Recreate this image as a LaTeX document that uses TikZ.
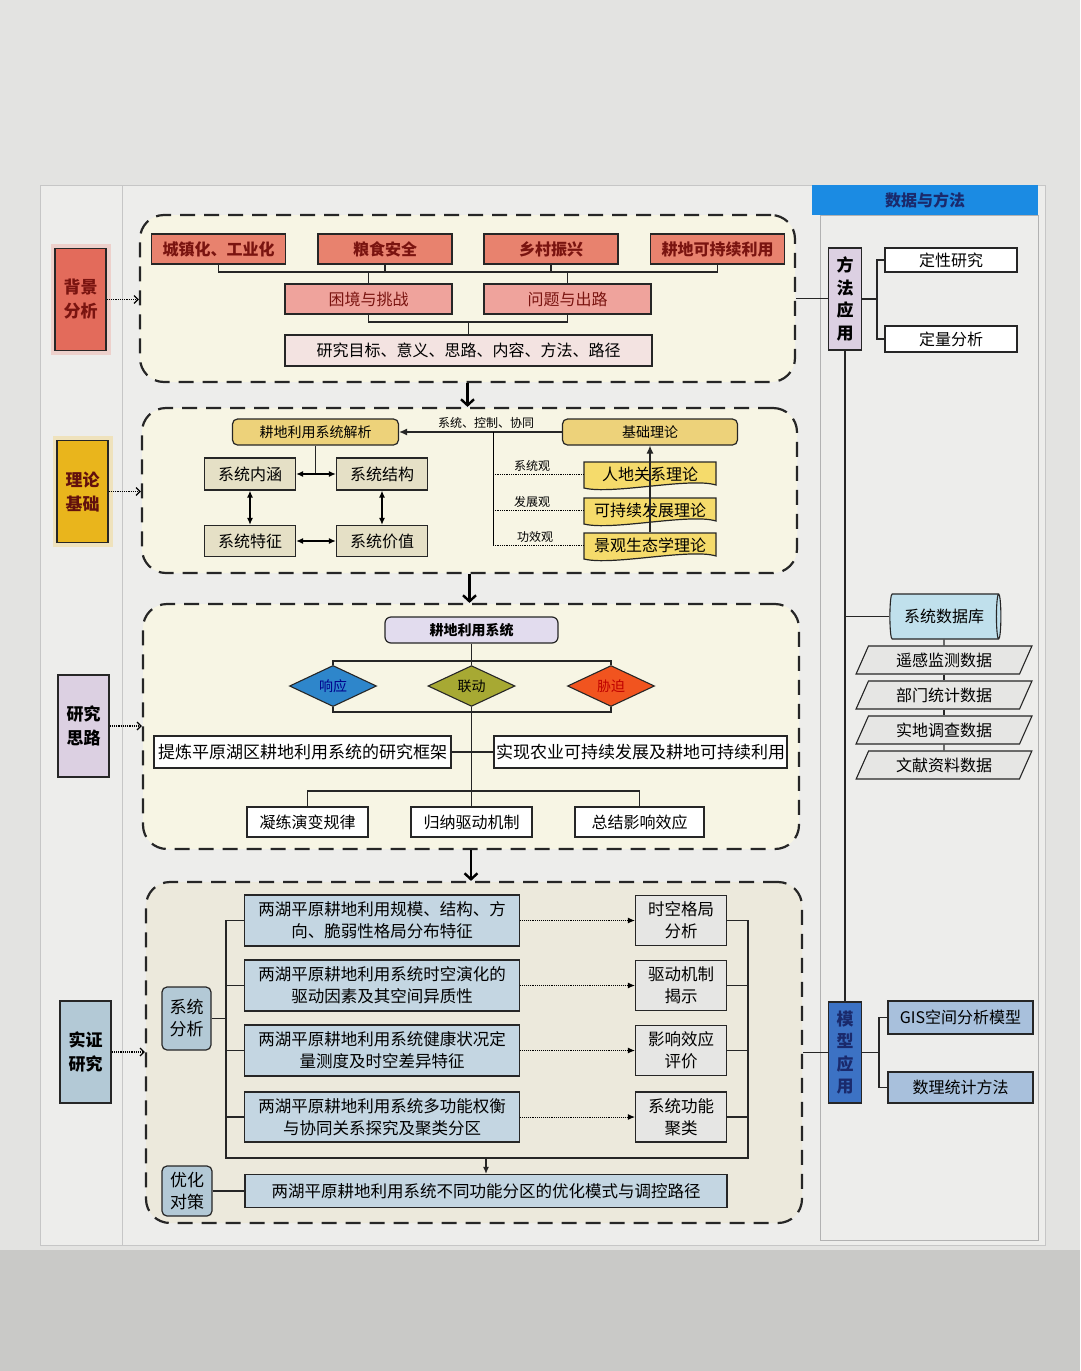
\documentclass[tikz,border=0pt]{standalone}
\usepackage{fontspec}
\setmainfont{Noto Sans CJK SC}
\usetikzlibrary{arrows.meta,shapes.geometric,positioning,calc}

\definecolor{bgA}{HTML}{E3E3E1}
\definecolor{bgB}{HTML}{C9C9C7}
\definecolor{paper}{HTML}{EDEDEB}
\definecolor{cream}{HTML}{F7F5E4}
\definecolor{creamB}{HTML}{ECE9DC}
\definecolor{redA}{HTML}{E8826E}
\definecolor{redB}{HTML}{EFA39C}
\definecolor{redC}{HTML}{F3E3E1}
\definecolor{redD}{HTML}{7A1410}
\definecolor{bjC}{HTML}{E36B5B}
\definecolor{goldA}{HTML}{E9B51C}
\definecolor{yelA}{HTML}{EDD27A}
\definecolor{yelB}{HTML}{F5DB6B}
\definecolor{khaki}{HTML}{E5E0C6}
\definecolor{lila}{HTML}{DCD0E2}
\definecolor{lilaB}{HTML}{E2DCEE}
\definecolor{dBlue}{HTML}{2E86CB}
\definecolor{dOlive}{HTML}{A7A933}
\definecolor{dRed}{HTML}{F1541F}
\definecolor{steel}{HTML}{C4D6E2}
\definecolor{steelB}{HTML}{B3C9D6}
\definecolor{lgray}{HTML}{E6E6E4}
\definecolor{hdBlue}{HTML}{1B8BE3}
\definecolor{navy}{HTML}{1A2A6C}
\definecolor{mBlue}{HTML}{3C72C4}
\definecolor{gisB}{HTML}{A8C0DC}
\definecolor{cyl}{HTML}{C0E0EC}

\begin{document}
\begin{tikzpicture}[x=1pt,y=-1pt,
  box/.style={draw=black!85, line width=1.2pt, inner sep=0pt, align=center, font=\fontsize{16}{21}\selectfont},
  lab/.style={box, minimum width=51pt, minimum height=102pt, font=\bfseries\fontsize{17}{24}\selectfont},
  frame/.style={draw=black!85, line width=2.2pt, dash pattern=on 15pt off 9pt, rounded corners=24pt, fill=cream, inner sep=0pt},
  link/.style={draw=black!85, line width=1.2pt},
  dotarr/.style={densely dotted, line width=1.2pt, -{Straight Barb[length=4pt,width=8pt]}},
  dotthin/.style={densely dotted, line width=0.9pt, -{Latex[length=7pt,width=6pt]}},
  bigarr/.style={line width=2.4pt, -{Straight Barb[length=6pt,width=13pt]}},
  dbl/.style={line width=1.3pt, {Latex[length=7pt,width=6pt]}-{Latex[length=7pt,width=6pt]}},
  small/.style={inner sep=0pt, font=\fontsize{12}{14}\selectfont},
  dia/.style={diamond, draw=black!85, line width=1.1pt, minimum width=87pt, minimum height=31pt, inner sep=0pt, font=\fontsize{14}{16}\selectfont},
  para/.style={trapezium, trapezium left angle=62, trapezium right angle=118, trapezium stretches=true, draw=black!85, line width=1.1pt, fill=lgray, minimum width=176pt, minimum height=28pt, inner sep=0pt, font=\fontsize{16}{20}\selectfont}]

\useasboundingbox (0,0) rectangle (1080,1371);
% page and paper
\fill[bgA] (0,0) rectangle (1080,1250);
\fill[bgB] (0,1250) rectangle (1080,1371);
\fill[paper] (40,185) rectangle (1045,1245);
\draw[gray!45, line width=0.8pt] (40,185) rectangle (1045,1245);
\draw[gray!45, line width=0.8pt] (122,185) -- (122,1245);
\draw[gray!60, line width=0.8pt] (820,215) rectangle (1038,1240);
\node[box, draw=none, fill=hdBlue, minimum width=226pt, minimum height=30pt, text=navy, font=\bfseries\fontsize{16}{20}\selectfont] (hd) at (925,200) {数据与方法};

% dashed frames
\node[frame, minimum width=655pt, minimum height=167pt] (sec1) at (467.5,298.5) {};
\node[frame, minimum width=655pt, minimum height=165pt] (sec2) at (469.5,490.5) {};
\node[frame, minimum width=656pt, minimum height=245pt] (sec3) at (471,726.5) {};
\node[frame, fill=creamB, minimum width=656pt, minimum height=341pt] (sec4) at (474,1052.5) {};
\draw[bigarr] (sec1.south) -- (sec1.south |- sec2.north);
\draw[bigarr] (sec2.south) -- (sec2.south |- sec3.north);
\draw[bigarr] (sec3.south) -- (sec3.south |- sec4.north);

% left labels
\node[lab, fill=bjC, text=redD, preaction={draw=bjC!60, line width=9pt, opacity=.4}] (bj) at (80.5,299.5) {背景\\分析};
\node[lab, fill=goldA, text=redD!80!black, preaction={draw=goldA!60, line width=9pt, opacity=.4}] (ll) at (82.5,491.5) {理论\\基础};
\node[lab, fill=lila] (yj) at (83.5,726) {研究\\思路};
\node[lab, fill=steelB] (sz) at (85.5,1052) {实证\\研究};
\foreach \a/\b in {bj/sec1, ll/sec2, yj/sec3, sz/sec4}
  \draw[dotarr] (\a.east) -- (\a.east -| \b.west);

% background analysis
\foreach \n/\x/\t in {c1/218.5/城镇化、工业化, c2/385/粮食安全, c3/551/乡村振兴, c4/717.5/耕地可持续利用}
  \node[box, fill=redA, text=redD, font=\bfseries\fontsize{16}{20}\selectfont, minimum width=134pt, minimum height=30pt] (\n) at (\x,249) {\t};
\node[box, fill=redB, text=redD, minimum width=167pt, minimum height=30pt] (k1) at (368.5,299) {困境与挑战};
\node[box, fill=redB, text=redD, minimum width=167pt, minimum height=30pt] (k2) at (567.5,299) {问题与出路};
\node[box, fill=redC, minimum width=367pt, minimum height=31pt] (mb) at (468.5,350.5) {研究目标、意义、思路、内容、方法、路径};
\coordinate (row1) at (0,272);
\coordinate (row2) at (0,322);
\draw[link] (c1.south) |- (row1 -| c4) -- (c4.south);
\foreach \n in {c2,c3} \draw[link] (\n.south) -- (\n |- row1);
\foreach \n in {k1,k2} \draw[link] (\n.north) -- (\n |- row1);
\draw[link] (k1.south) |- (row2 -| k2) -- (k2.south);
\draw[link] (mb.north) -- (mb |- row2);

% theory basis
\node[box, rounded corners=5pt, fill=yelA, minimum width=166pt, minimum height=26pt, font=\fontsize{14}{18}\selectfont] (jx) at (315.5,432) {耕地利用系统解析};
\node[box, rounded corners=5pt, fill=yelA, minimum width=175pt, minimum height=26pt, font=\fontsize{14}{18}\selectfont] (jc) at (650,432) {基础理论};
\node[box, fill=khaki, minimum width=91pt, minimum height=32pt] (nh) at (250,474) {系统内涵};
\node[box, fill=khaki, minimum width=91pt, minimum height=32pt] (jg) at (382,474) {系统结构};
\node[box, fill=khaki, minimum width=91pt, minimum height=31pt] (tz) at (250,541) {系统特征};
\node[box, fill=khaki, minimum width=91pt, minimum height=31pt] (jz) at (382,541) {系统价值};
\draw[link] (jx.south) -- (jx.south |- nh.east);
\draw[dbl] (nh.east) -- (jg.west);
\draw[dbl] (nh.south) -- (tz.north);
\draw[dbl] (jg.south) -- (jz.north);
\draw[dbl] (tz.east) -- (jz.west);
\draw[link, -{Latex[length=8pt,width=7pt]}] (jc.west) -- (jx.east);
\node[small] (lk) at (486,423) {系统、控制、协同};
\foreach \i/\y/\t in {1/475/人地关系理论, 2/511/可持续发展理论, 3/546/景观生态学理论} {
  \draw[link, fill=yelB] (584,\y-13) -- (716,\y-13) -- (716,\y+10) .. controls (690,\y+2) and (612,\y+20) .. (584,\y+13) -- cycle;
  \node[inner sep=0pt, minimum width=132pt, minimum height=26pt, font=\fontsize{16}{20}\selectfont] (t\i) at (650,\y-1) {\t};
}
\coordinate (v0) at (493,432);
\draw[line width=0.8pt] (v0) -- (v0 |- t3.west);
\foreach \i in {1,2,3}
  \draw[densely dotted, line width=0.8pt] (v0 |- t\i.west) -- (t\i.west);
\node[small] (g1) at (532,466) {系统观};
\node[small] (g2) at (532,502) {发展观};
\node[small] (g3) at (535,537) {功效观};
\draw[link, -{Latex[length=8pt,width=7pt]}] (t3.north) -- (jc.south);

% research idea
\node[box, rounded corners=6pt, fill=lilaB, minimum width=173pt, minimum height=26pt, font=\bfseries\fontsize{14}{18}\selectfont] (xt) at (471.5,630) {耕地利用系统};
\node[dia, fill=dBlue, text=blue!55!black] (d1) at (333,686) {响应};
\node[dia, fill=dOlive] (d2) at (471.5,686) {联动};
\node[dia, fill=dRed, text=red!75!black] (d3) at (611,686) {胁迫};
\coordinate (h1) at (0,661);
\coordinate (h2) at (0,712);
\coordinate (h3) at (0,791);
\draw[link] (xt.south) -- (xt |- h1);
\draw[link] (d2.north) -- (d2 |- h1);
\draw[link] (d1.north) |- (h1 -| d3) -- (d3.north);
\draw[link] (d1.south) |- (h2 -| d3) -- (d3.south);
\draw[link] (d2.south) -- (d2 |- h3);
\node[box, fill=white, minimum width=297pt, minimum height=32pt, font=\fontsize{17}{20}\selectfont] (f1) at (302.5,752) {提炼平原湖区耕地利用系统的研究框架};
\node[box, fill=white, minimum width=293pt, minimum height=32pt, font=\fontsize{17}{20}\selectfont] (f2) at (640.5,752) {实现农业可持续发展及耕地可持续利用};
\draw[link] (f1.east) -- (f2.west);
\node[box, fill=white, minimum width=121pt, minimum height=30pt] (e1) at (307.5,822) {凝练演变规律};
\node[box, fill=white, minimum width=121pt, minimum height=30pt] (e2) at (471.5,822) {归纳驱动机制};
\node[box, fill=white, minimum width=129pt, minimum height=30pt] (e3) at (639.5,822) {总结影响效应};
\draw[link] (e1.north) |- (h3 -| e3) -- (e3.north);
\draw[link] (e2.north) -- (e2 |- h3);

% empirical study
\node[box, rounded corners=5pt, fill=steelB, minimum width=49pt, minimum height=63pt, font=\fontsize{17}{22}\selectfont] (fx) at (186.5,1018.5) {系统\\分析};
\node[box, fill=steel, minimum width=275pt, minimum height=51pt, font=\fontsize{16.5}{22}\selectfont] (b1) at (382,920.5) {两湖平原耕地利用规模、结构、方\\向、脆弱性格局分布特征};
\node[box, fill=steel, minimum width=275pt, minimum height=51pt, font=\fontsize{16.5}{22}\selectfont] (b2) at (382,985.5) {两湖平原耕地利用系统时空演化的\\驱动因素及其空间异质性};
\node[box, fill=steel, minimum width=275pt, minimum height=51pt, font=\fontsize{16.5}{22}\selectfont] (b3) at (382,1050.5) {两湖平原耕地利用系统健康状况定\\量测度及时空差异特征};
\node[box, fill=steel, minimum width=275pt, minimum height=50pt, font=\fontsize{16.5}{22}\selectfont] (b4) at (382,1117) {两湖平原耕地利用系统多功能权衡\\与协同关系探究及聚类分区};
\node[box, fill=lgray, minimum width=91pt, minimum height=50pt, font=\fontsize{16.5}{22}\selectfont] (q1) at (681,920.5) {时空格局\\分析};
\node[box, fill=lgray, minimum width=91pt, minimum height=50pt, font=\fontsize{16.5}{22}\selectfont] (q2) at (681,985.5) {驱动机制\\揭示};
\node[box, fill=lgray, minimum width=91pt, minimum height=50pt, font=\fontsize{16.5}{22}\selectfont] (q3) at (681,1050.5) {影响效应\\评价};
\node[box, fill=lgray, minimum width=91pt, minimum height=50pt, font=\fontsize{16.5}{22}\selectfont] (q4) at (681,1117) {系统功能\\聚类};
\coordinate (bl) at (226,1158);
\coordinate (br) at (748,1158);
\draw[link] (b1.west) -| (bl) -- (br) |- (q1.east);
\foreach \i in {2,3,4} {
  \draw[link] (b\i.west) -- (b\i.west -| bl);
  \draw[link] (q\i.east) -- (q\i.east -| br);
}
\foreach \i in {1,...,4}
  \draw[dotthin] (b\i.east) -- (q\i.west);
\draw[link] (fx.east) -- (fx.east -| bl);
\node[box, rounded corners=5pt, fill=steelB, minimum width=50pt, minimum height=50pt, font=\fontsize{17}{22}\selectfont] (yc) at (187,1191) {优化\\对策};
\node[box, fill=steel, minimum width=482pt, minimum height=33pt, font=\fontsize{16.5}{20}\selectfont] (yh) at (486,1191) {两湖平原耕地利用系统不同功能分区的优化模式与调控路径};
\draw[link, -{Latex[length=7pt,width=6pt]}] (bl -| yh) -- (yh.north);
\draw[link] (yc.east) -- (yh.west);

% data and methods
\node[box, fill=lila, minimum width=33pt, minimum height=102pt, font=\bfseries\fontsize{17}{22.5}\selectfont] (ff) at (845,299) {方\\法\\应\\用};
\node[box, fill=white, minimum width=132pt, minimum height=24pt] (dx) at (951,260) {定性研究};
\node[box, fill=white, minimum width=132pt, minimum height=26pt] (dl) at (951,339) {定量分析};
\draw[link] (sec1.east) -- (sec1.east -| ff.west);
\coordinate (m1) at (877,299);
\draw[link] (ff.east) -- (m1);
\draw[link] (dx.west) -| (m1) |- (dl.west);
\node[cylinder, aspect=0.3, draw=black!85, line width=1.1pt, fill=cyl, minimum width=45pt, minimum height=111pt, inner sep=0pt, font=\fontsize{16}{20}\selectfont] (sk) at (944,616.5) {系统数据库};
\foreach \i/\y/\t in {1/660/遥感监测数据, 2/695/部门统计数据, 3/730/实地调查数据, 4/765/文献资料数据}
  \node[para] (p\i) at (944,\y) {\t};
\draw[link] (sk.south) -- (p1.north);
\foreach \i/\j in {1/2, 2/3, 3/4}
  \draw[link] (p\i.south) -- (p\j.north);
\node[box, fill=mBlue, text=navy, minimum width=33pt, minimum height=101pt, font=\bfseries\fontsize{17}{22.5}\selectfont] (mx) at (845,1052.5) {模\\型\\应\\用};
\draw[link] (ff.south) -- (mx.north);
\draw[link] (ff.south |- sk.west) -- (sk.west);
\node[box, fill=gisB, minimum width=145pt, minimum height=33pt] (gis) at (960.5,1017.5) {GIS空间分析模型};
\node[box, fill=gisB, minimum width=145pt, minimum height=31pt] (sl) at (960.5,1087.5) {数理统计方法};
\draw[link] (sec4.east) -- (sec4.east -| mx.west);
\coordinate (m2) at (879,1052.5);
\draw[link] (mx.east) -- (m2);
\draw[link] (gis.west) -| (m2) |- (sl.west);
\end{tikzpicture}
\end{document}
